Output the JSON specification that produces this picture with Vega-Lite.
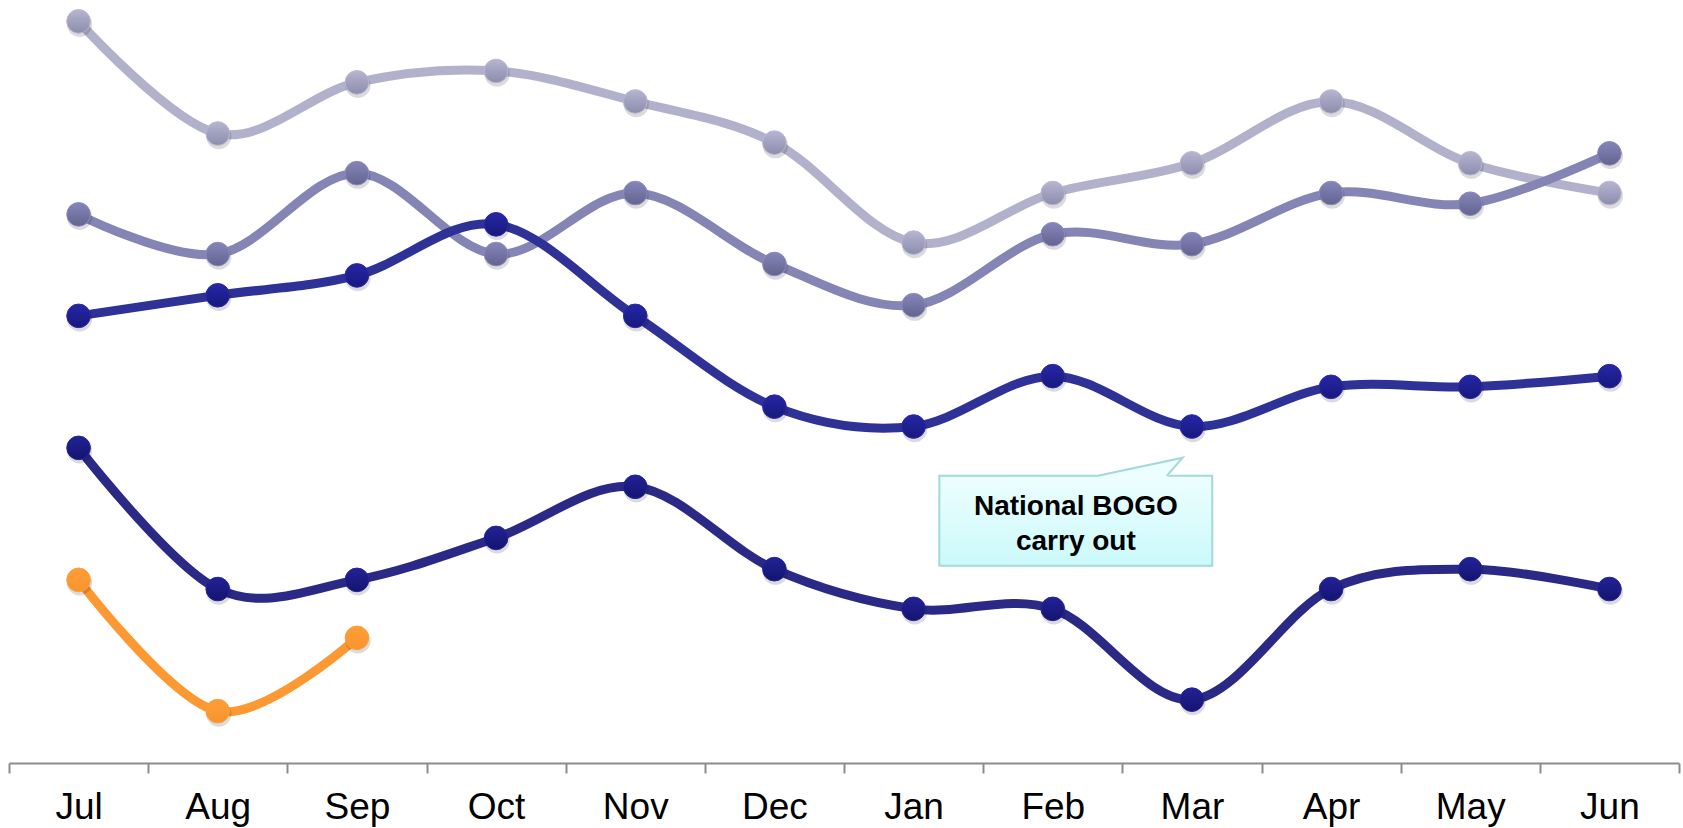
{
  "$schema": "https://vega.github.io/schema/vega-lite/v6.json",
  "width": 1670,
  "height": 763,
  "autosize": "none",
  "padding": {"left": 9, "top": 0, "right": 4, "bottom": 65},
  "background": "white",
  "config": {"view": {"stroke": null}, "font": "Liberation Sans"},
  "datasets": {
    "sales": [
      {"series": "FY2006", "month": "Jul", "value": 97.2},
      {"series": "FY2006", "month": "Aug", "value": 82.5},
      {"series": "FY2006", "month": "Sep", "value": 89.2},
      {"series": "FY2006", "month": "Oct", "value": 90.7},
      {"series": "FY2006", "month": "Nov", "value": 86.7},
      {"series": "FY2006", "month": "Dec", "value": 81.3},
      {"series": "FY2006", "month": "Jan", "value": 68.2},
      {"series": "FY2006", "month": "Feb", "value": 74.7},
      {"series": "FY2006", "month": "Mar", "value": 78.6},
      {"series": "FY2006", "month": "Apr", "value": 86.7},
      {"series": "FY2006", "month": "May", "value": 78.6},
      {"series": "FY2006", "month": "Jun", "value": 74.7},
      {"series": "FY2007", "month": "Jul", "value": 71.9},
      {"series": "FY2007", "month": "Aug", "value": 66.7},
      {"series": "FY2007", "month": "Sep", "value": 77.3},
      {"series": "FY2007", "month": "Oct", "value": 66.7},
      {"series": "FY2007", "month": "Nov", "value": 74.7},
      {"series": "FY2007", "month": "Dec", "value": 65.4},
      {"series": "FY2007", "month": "Jan", "value": 60.0},
      {"series": "FY2007", "month": "Feb", "value": 69.3},
      {"series": "FY2007", "month": "Mar", "value": 68.0},
      {"series": "FY2007", "month": "Apr", "value": 74.7},
      {"series": "FY2007", "month": "May", "value": 73.3},
      {"series": "FY2007", "month": "Jun", "value": 79.9},
      {"series": "FY2008", "month": "Jul", "value": 58.6},
      {"series": "FY2008", "month": "Aug", "value": 61.3},
      {"series": "FY2008", "month": "Sep", "value": 63.9},
      {"series": "FY2008", "month": "Oct", "value": 70.6},
      {"series": "FY2008", "month": "Nov", "value": 58.6},
      {"series": "FY2008", "month": "Dec", "value": 46.7},
      {"series": "FY2008", "month": "Jan", "value": 44.1},
      {"series": "FY2008", "month": "Feb", "value": 50.7},
      {"series": "FY2008", "month": "Mar", "value": 44.1},
      {"series": "FY2008", "month": "Apr", "value": 49.3},
      {"series": "FY2008", "month": "May", "value": 49.3},
      {"series": "FY2008", "month": "Jun", "value": 50.7},
      {"series": "FY2009", "month": "Jul", "value": 41.3},
      {"series": "FY2009", "month": "Aug", "value": 22.8},
      {"series": "FY2009", "month": "Sep", "value": 24.0},
      {"series": "FY2009", "month": "Oct", "value": 29.5},
      {"series": "FY2009", "month": "Nov", "value": 36.2},
      {"series": "FY2009", "month": "Dec", "value": 25.4},
      {"series": "FY2009", "month": "Jan", "value": 20.2},
      {"series": "FY2009", "month": "Feb", "value": 20.2},
      {"series": "FY2009", "month": "Mar", "value": 8.3},
      {"series": "FY2009", "month": "Apr", "value": 22.8},
      {"series": "FY2009", "month": "May", "value": 25.4},
      {"series": "FY2009", "month": "Jun", "value": 22.8},
      {"series": "FY2010", "month": "Jul", "value": 24.0},
      {"series": "FY2010", "month": "Aug", "value": 6.8},
      {"series": "FY2010", "month": "Sep", "value": 16.4}
    ],
    "callout": [
      {"start": 6.685, "end": 8.646, "top": 37.64, "bottom": 25.86, "mid": 7.666, "center": 33.6, "label": "National BOGO\ncarry out"}
    ],
    "tail": [
      {"pos": 7.825, "top": 37.64, "step": 1},
      {"pos": 8.434, "top": 40.01, "step": 2},
      {"pos": 8.319, "top": 37.64, "step": 3}
    ],
    "tailFill": [
      {"pos": 7.825, "top": 37.64, "base": 37.4},
      {"pos": 8.319, "top": 39.56, "base": 37.4},
      {"pos": 8.434, "top": 40.01, "base": 40.01}
    ]
  },
  "layer": [
    {
      "data": {"name": "sales"},
      "encoding": {
        "x": {
          "field": "month",
          "type": "ordinal",
          "sort": ["Jul", "Aug", "Sep", "Oct", "Nov", "Dec", "Jan", "Feb", "Mar", "Apr", "May", "Jun"],
          "scale": {"type": "band", "paddingInner": 0, "paddingOuter": 0},
          "axis": {
            "title": null,
            "labelAngle": 0,
            "tickBand": "extent",
            "tickSize": 10,
            "tickWidth": 2,
            "tickColor": "#8c8c8c",
            "domainColor": "#8c8c8c",
            "domainWidth": 2,
            "labelFont": "Liberation Sans",
            "labelFontSize": 37,
            "labelColor": "#000000",
            "labelPadding": 16,
            "grid": false
          }
        },
        "y": {"field": "value", "type": "quantitative", "scale": {"domain": [0, 100]}, "axis": null}
      },
      "layer": [
        {
          "mark": {"type": "line", "interpolate": "cardinal", "tension": 0, "strokeWidth": 9, "strokeCap": "round"},
          "encoding": {
            "color": {
              "field": "series",
              "type": "nominal",
              "scale": {
                "domain": ["FY2006", "FY2007", "FY2008", "FY2009", "FY2010"],
                "range": ["#b1b1cb", "#8585b5", "#2e3196", "#2a2a86", "#fc9933"]
              },
              "legend": null
            }
          }
        },
        {
          "mark": {"type": "point", "filled": true, "size": 640, "color": "#000000", "opacity": 0.14, "xOffset": 1, "yOffset": 3}
        },
        {
          "transform": [{"filter": "datum.series === 'FY2006'"}],
          "mark": {"type": "point", "filled": true, "size": 560, "opacity": 1, "strokeWidth": 1, "stroke": "#b8b8d4",
            "color": {"gradient": "linear", "x1": 0, "y1": 0, "x2": 0, "y2": 1,
              "stops": [{"offset": 0, "color": "#b6b6d2"}, {"offset": 1, "color": "#8c8cac"}]}}
        },
        {
          "transform": [{"filter": "datum.series === 'FY2007'"}],
          "mark": {"type": "point", "filled": true, "size": 560, "opacity": 1, "strokeWidth": 1, "stroke": "#8a8abc",
            "color": {"gradient": "linear", "x1": 0, "y1": 0, "x2": 0, "y2": 1,
              "stops": [{"offset": 0, "color": "#8585bb"}, {"offset": 1, "color": "#64648f"}]}}
        },
        {
          "transform": [{"filter": "datum.series === 'FY2008'"}],
          "mark": {"type": "point", "filled": true, "size": 560, "opacity": 1, "strokeWidth": 1, "stroke": "#2a2aa8",
            "color": {"gradient": "linear", "x1": 0, "y1": 0, "x2": 0, "y2": 1,
              "stops": [{"offset": 0, "color": "#2626a6"}, {"offset": 1, "color": "#18187e"}]}}
        },
        {
          "transform": [{"filter": "datum.series === 'FY2009'"}],
          "mark": {"type": "point", "filled": true, "size": 560, "opacity": 1, "strokeWidth": 1, "stroke": "#24249a",
            "color": {"gradient": "linear", "x1": 0, "y1": 0, "x2": 0, "y2": 1,
              "stops": [{"offset": 0, "color": "#222296"}, {"offset": 1, "color": "#141470"}]}}
        },
        {
          "transform": [{"filter": "datum.series === 'FY2010'"}],
          "mark": {"type": "point", "filled": true, "size": 560, "opacity": 1, "strokeWidth": 1, "stroke": "#fda040",
            "color": {"gradient": "linear", "x1": 0, "y1": 0, "x2": 0, "y2": 1,
              "stops": [{"offset": 0, "color": "#fe9d38"}, {"offset": 1, "color": "#f8942c"}]}}
        }
      ]
    },
    {
      "data": {"name": "callout"},
      "mark": {"type": "rect", "color": "#000000", "opacity": 0.18, "xOffset": 3, "yOffset": 4},
      "encoding": {
        "x": {"field": "start", "type": "quantitative", "scale": {"domain": [0, 12]}, "axis": null},
        "x2": {"field": "end"},
        "y": {"field": "top", "type": "quantitative", "scale": {"domain": [0, 100]}, "axis": null},
        "y2": {"field": "bottom"}
      }
    },
    {
      "data": {"name": "callout"},
      "mark": {"type": "rect", "stroke": "#a3d8dc", "strokeWidth": 2, "opacity": 1,
        "color": {"gradient": "linear", "x1": 0, "y1": 0, "x2": 0, "y2": 1,
          "stops": [{"offset": 0, "color": "#edfefe"}, {"offset": 1, "color": "#cbf9fa"}]}},
      "encoding": {
        "x": {"field": "start", "type": "quantitative", "scale": {"domain": [0, 12]}, "axis": null},
        "x2": {"field": "end"},
        "y": {"field": "top", "type": "quantitative", "scale": {"domain": [0, 100]}, "axis": null},
        "y2": {"field": "bottom"}
      }
    },
    {
      "data": {"name": "tailFill"},
      "mark": {"type": "area", "color": "#edfefe", "opacity": 1},
      "encoding": {
        "x": {"field": "pos", "type": "quantitative", "scale": {"domain": [0, 12]}, "axis": null},
        "y": {"field": "top", "type": "quantitative", "scale": {"domain": [0, 100]}, "axis": null},
        "y2": {"field": "base"}
      }
    },
    {
      "data": {"name": "tail"},
      "mark": {"type": "line", "color": "#a3d8dc", "strokeWidth": 2, "strokeJoin": "miter"},
      "encoding": {
        "x": {"field": "pos", "type": "quantitative", "scale": {"domain": [0, 12]}, "axis": null},
        "y": {"field": "top", "type": "quantitative", "scale": {"domain": [0, 100]}, "axis": null},
        "order": {"field": "step", "type": "quantitative"}
      }
    },
    {
      "data": {"name": "callout"},
      "mark": {"type": "text", "lineBreak": "\n", "fontSize": 28, "fontWeight": "bold", "font": "Liberation Sans",
        "align": "center", "baseline": "middle", "lineHeight": 35, "color": "#000000"},
      "encoding": {
        "x": {"field": "mid", "type": "quantitative", "scale": {"domain": [0, 12]}, "axis": null},
        "y": {"field": "center", "type": "quantitative", "scale": {"domain": [0, 100]}, "axis": null},
        "text": {"field": "label"}
      }
    }
  ],
  "resolve": {"scale": {"x": "independent"}}
}
